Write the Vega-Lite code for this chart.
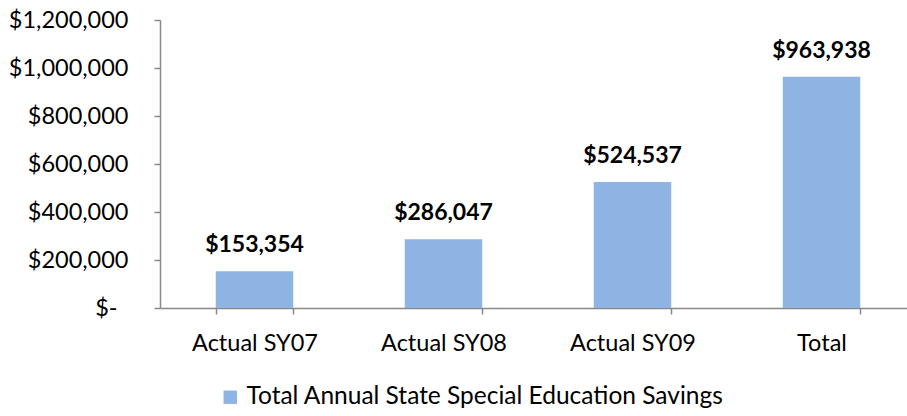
{
  "$schema": "https://vega.github.io/schema/vega-lite/v6.json",
  "width": 756,
  "height": 288,
  "autosize": "none",
  "padding": {"left": 160, "top": 20, "right": 0, "bottom": 108},
  "background": "white",
  "config": {
    "view": {"stroke": null},
    "font": "Lato",
    "axis": {"grid": false, "domainColor": "#888888", "tickColor": "#888888", "labelColor": "#000000", "labelFont": "Lato", "labelFontSize": 23.5, "title": null}
  },
  "data": {
    "values": [
      {"category": "Actual SY07", "savings": 153354, "series": "Total Annual State Special Education Savings"},
      {"category": "Actual SY08", "savings": 286047, "series": "Total Annual State Special Education Savings"},
      {"category": "Actual SY09", "savings": 524537, "series": "Total Annual State Special Education Savings"},
      {"category": "Total", "savings": 963938, "series": "Total Annual State Special Education Savings"}
    ]
  },
  "encoding": {
    "x": {
      "field": "category",
      "type": "nominal",
      "sort": null,
      "scale": {"paddingInner": 0.59, "paddingOuter": 0.295},
      "axis": {"labelAngle": 0, "tickBand": "extent", "tickSize": 6, "tickWidth": 1.5, "labelPadding": 17, "domainWidth": 1.5}
    },
    "y": {
      "field": "savings",
      "type": "quantitative",
      "scale": {"domain": [0, 1200000], "nice": false},
      "axis": {
        "values": [0, 200000, 400000, 600000, 800000, 1000000, 1200000],
        "labelExpr": "datum.value == 0 ? '$-' : '$' + format(datum.value, ',')",
        "tickSize": 6,
        "tickWidth": 1.5,
        "labelPadding": {"condition": {"test": "datum.value == 0", "value": 37}, "value": 26},
        "domainWidth": 1.5
      }
    }
  },
  "layer": [
    {
      "mark": {"type": "bar", "color": "#8EB4E3"},
      "encoding": {
        "color": {
          "field": "series",
          "type": "nominal",
          "scale": {"range": ["#8EB4E3"]},
          "legend": {
            "title": null,
            "orient": "none",
            "legendX": 58,
            "legendY": 365,
            "symbolType": "square",
            "symbolSize": 180,
            "symbolStrokeWidth": 0,
            "labelFontSize": 24.5,
            "labelFont": "Lato",
            "labelColor": "#000000",
            "labelLimit": 700
          }
        }
      }
    },
    {
      "mark": {"type": "text", "dy": -26, "fontWeight": "bold", "fontSize": 23, "font": "Lato", "color": "#000000"},
      "encoding": {
        "text": {"field": "savings", "type": "quantitative", "format": "$,.0f"}
      }
    }
  ]
}
